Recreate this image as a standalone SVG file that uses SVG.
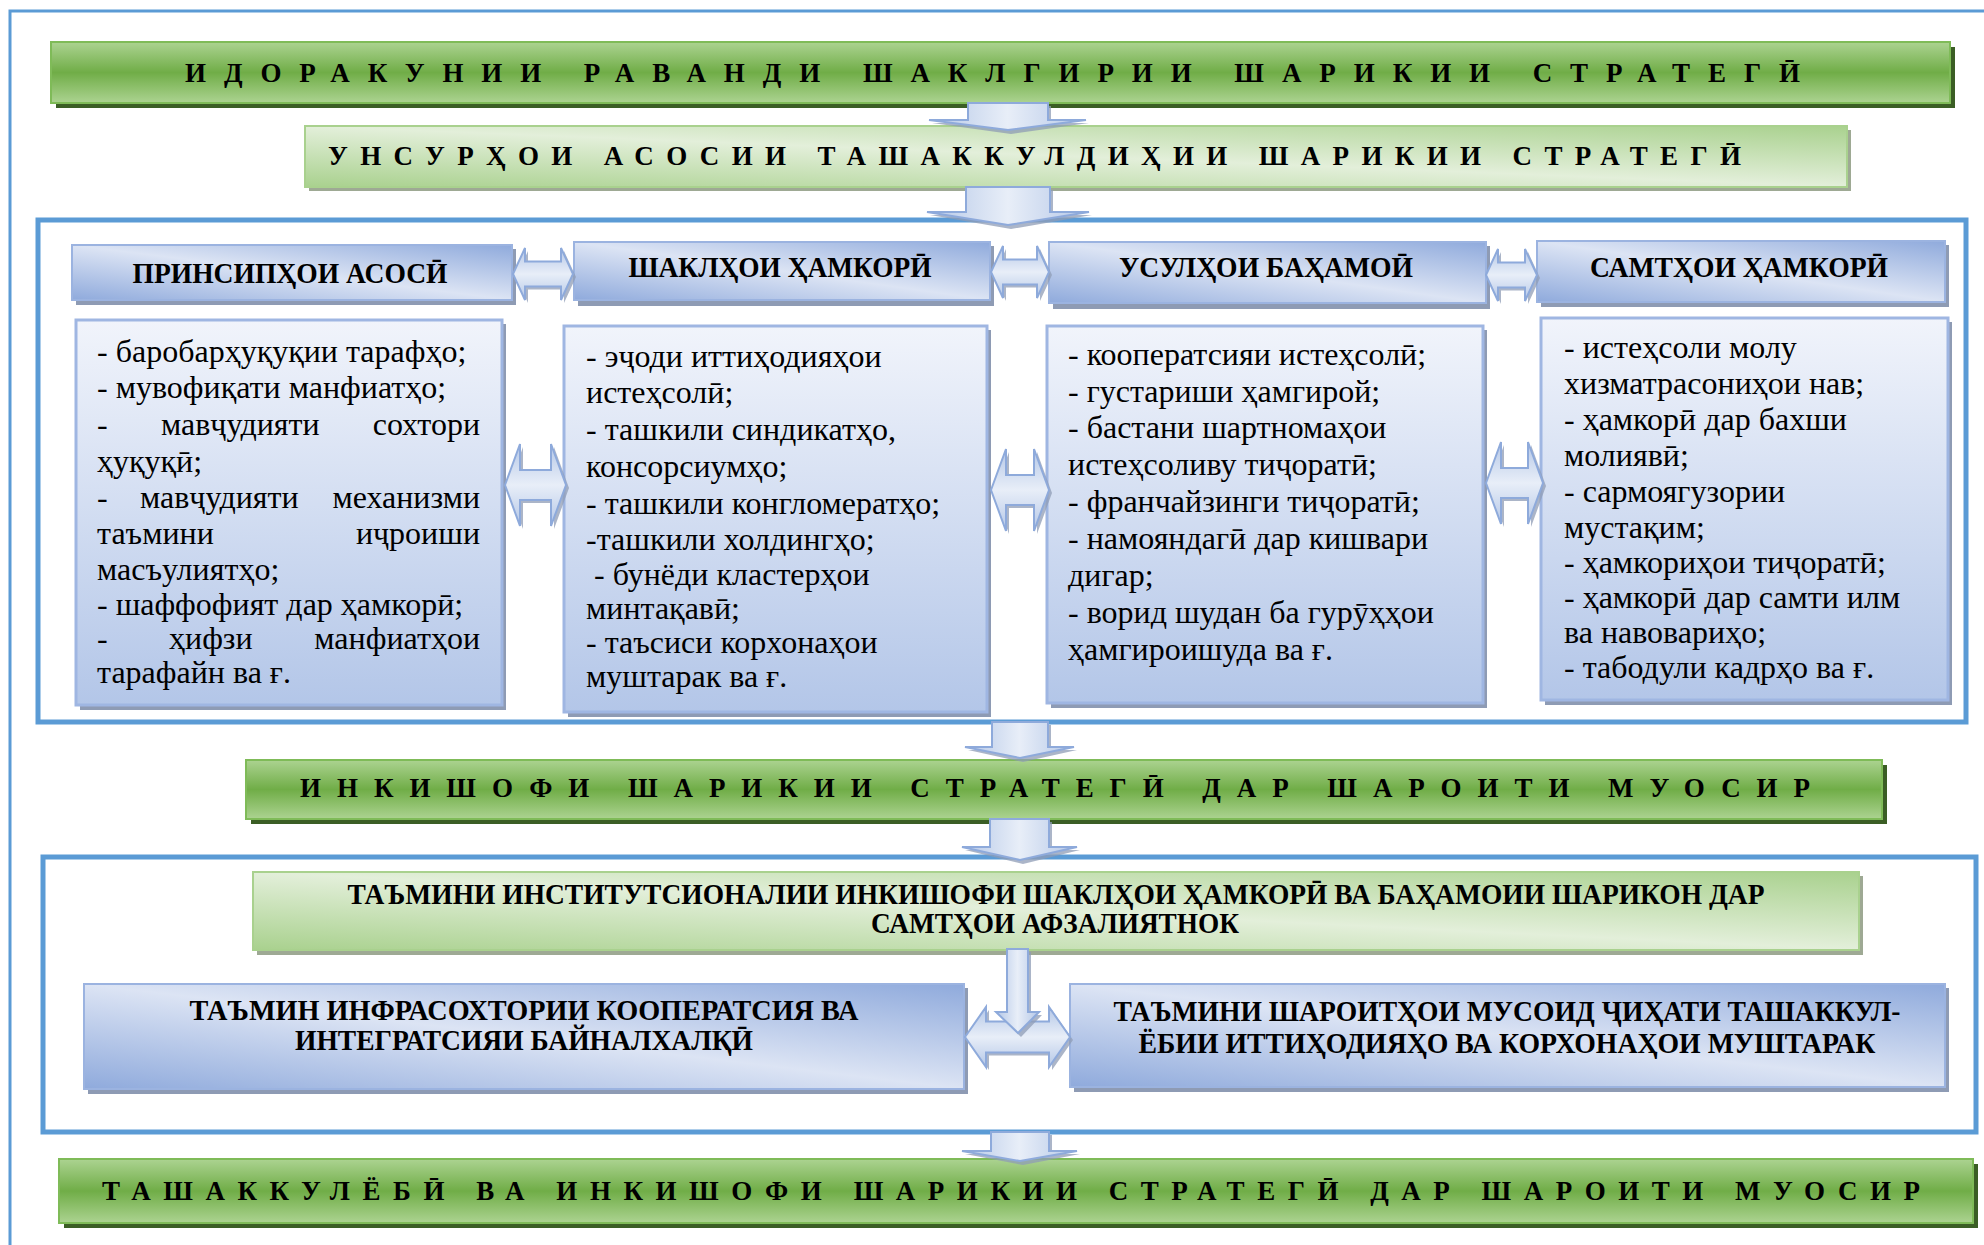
<svg xmlns="http://www.w3.org/2000/svg" width="1984" height="1245" viewBox="0 0 1984 1245">
<defs>
<linearGradient id="gDark" x1="0" y1="0" x2="0" y2="1"><stop offset="0" stop-color="#acd391"/><stop offset="0.5" stop-color="#70ad47"/><stop offset="1" stop-color="#acd391"/></linearGradient>
<linearGradient id="gLight" x1="0" y1="1" x2="1" y2="0"><stop offset="0" stop-color="#a9d18e"/><stop offset="0.5" stop-color="#e3efda"/><stop offset="1" stop-color="#a9d18e"/></linearGradient>
<linearGradient id="gBlueDiag" x1="0" y1="1" x2="1" y2="0"><stop offset="0" stop-color="#8faadc"/><stop offset="0.5" stop-color="#dce4f4"/><stop offset="1" stop-color="#8faadc"/></linearGradient>
<linearGradient id="gBox" x1="0" y1="0" x2="0" y2="1"><stop offset="0" stop-color="#f1f4fb"/><stop offset="1" stop-color="#b3c6e8"/></linearGradient>
<linearGradient id="gArrH" x1="0" y1="0" x2="0" y2="1"><stop offset="0" stop-color="#b4c7e7"/><stop offset="0.5" stop-color="#e8eef8"/><stop offset="1" stop-color="#b4c7e7"/></linearGradient>
<linearGradient id="gArrV" x1="0" y1="0" x2="1" y2="0"><stop offset="0" stop-color="#b4c7e7"/><stop offset="0.5" stop-color="#e8eef8"/><stop offset="1" stop-color="#b4c7e7"/></linearGradient>
<style>
.frame{fill:none;stroke:#5b9bd5;stroke-width:5}
.outer{fill:none;stroke:#5b9bd5;stroke-width:3}
.dark{fill:url(#gDark);stroke:#7fbb58;stroke-width:2}
.darkSh{fill:#3b5e25}
.light{fill:url(#gLight);stroke:#a9d18e;stroke-width:2}
.lightSh{fill:#9ea994}
.hdr{fill:url(#gBlueDiag);stroke:#9bb3e0;stroke-width:2}
.box{fill:url(#gBox);stroke:#9fb6e2;stroke-width:3}
.blueSh{fill:#8e9bb4}
.arrH{fill:url(#gArrH);stroke:#8eaadb;stroke-width:2}
.arrV{fill:url(#gArrV);stroke:#8eaadb;stroke-width:2}
.arrSh{fill:#8f9cb6;opacity:0.75}
.ban{font-family:"Liberation Serif","DejaVu Serif","Times New Roman",serif;font-weight:bold;font-size:27px;fill:#000}
.hd{font-family:"Liberation Serif","DejaVu Serif","Times New Roman",serif;font-weight:bold;font-size:29px;fill:#000;text-anchor:middle}
.bd{font-family:"Liberation Serif","DejaVu Serif","Times New Roman",serif;font-size:32px;fill:#000}
.end{text-anchor:end}
</style>
</defs>
<rect width="1984" height="1245" fill="#ffffff"/>
<path class="outer" d="M10,1245 V11 H1984"/>
<rect class="frame" x="38" y="220" width="1928" height="502"/>
<rect class="frame" x="43" y="857" width="1933" height="275"/>

<g id="banner1">
<rect class="darkSh" x="56" y="47" width="1899" height="61"/>
<rect class="dark" x="51" y="42" width="1899" height="61"/>
<text class="ban" x="185" y="82" textLength="1615" lengthAdjust="spacing">ИДОРАКУНИИ РАВАНДИ ШАКЛГИРИИ ШАРИКИИ СТРАТЕГӢ</text>
</g>
<g id="banner2">
<rect class="lightSh" x="309" y="130" width="1542" height="61"/>
<rect class="light" x="305" y="126" width="1542" height="61"/>
<text class="ban" x="328" y="165" textLength="1413" lengthAdjust="spacing">УНСУРҲОИ АСОСИИ ТАШАККУЛДИҲИИ ШАРИКИИ СТРАТЕГӢ</text>
</g>

<g id="header1">
<rect class="blueSh" x="76" y="249" width="440" height="56"/>
<rect class="hdr" x="72" y="245" width="440" height="55"/>
<text class="hd" x="290" y="283" textLength="315" lengthAdjust="spacingAndGlyphs">ПРИНСИПҲОИ АСОСӢ</text>
</g>
<g id="header2">
<rect class="blueSh" x="578" y="246" width="416" height="60"/>
<rect class="hdr" x="574" y="242" width="416" height="58"/>
<text class="hd" x="780" y="277" textLength="303" lengthAdjust="spacingAndGlyphs">ШАКЛҲОИ ҲАМКОРӢ</text>
</g>
<g id="header3">
<rect class="blueSh" x="1053" y="246" width="437" height="63"/>
<rect class="hdr" x="1049" y="242" width="437" height="61"/>
<text class="hd" x="1266" y="277" textLength="294" lengthAdjust="spacingAndGlyphs">УСУЛҲОИ БАҲАМОӢ</text>
</g>
<g id="header4">
<rect class="blueSh" x="1541" y="245" width="408" height="62"/>
<rect class="hdr" x="1537" y="241" width="408" height="61"/>
<text class="hd" x="1739" y="277" textLength="298" lengthAdjust="spacingAndGlyphs">САМТҲОИ ҲАМКОРӢ</text>
</g>

<g id="box1">
<rect class="blueSh" x="80" y="324" width="426" height="386"/>
<rect class="box" x="76" y="320" width="426" height="385"/>
<text class="bd" x="97" y="362">- баробарҳуқуқии тарафҳо;</text>
<text class="bd" x="97" y="398">- мувофиқати манфиатҳо;</text>
<text class="bd" y="435"><tspan x="97">-</tspan><tspan x="161">мавҷудияти</tspan></text>
<text class="bd end" x="480" y="435">сохтори</text>
<text class="bd" x="97" y="472">ҳуқуқӣ;</text>
<text class="bd" y="508"><tspan x="97">-</tspan><tspan x="140">мавҷудияти</tspan></text>
<text class="bd end" x="480" y="508">механизми</text>
<text class="bd" x="97" y="544">таъмини</text>
<text class="bd end" x="480" y="544">иҷроиши</text>
<text class="bd" x="97" y="580">масъулиятҳо;</text>
<text class="bd" x="97" y="615">- шаффофият дар ҳамкорӣ;</text>
<text class="bd" y="649"><tspan x="97">-</tspan><tspan x="169">ҳифзи</tspan></text>
<text class="bd end" x="480" y="649">манфиатҳои</text>
<text class="bd" x="97" y="683">тарафайн ва ғ.</text>
</g>
<g id="box2">
<rect class="blueSh" x="568" y="330" width="423" height="387"/>
<rect class="box" x="564" y="326" width="423" height="386"/>
<text class="bd" x="586" y="367">- эҷоди иттиҳодияҳои</text>
<text class="bd" x="586" y="403">истеҳсолӣ;</text>
<text class="bd" x="586" y="440">- ташкили синдикатҳо,</text>
<text class="bd" x="586" y="477">консорсиумҳо;</text>
<text class="bd" x="586" y="514">- ташкили конгломератҳо;</text>
<text class="bd" x="586" y="550">-ташкили холдингҳо;</text>
<text class="bd" x="594" y="585">- бунёди кластерҳои</text>
<text class="bd" x="586" y="619">минтақавӣ;</text>
<text class="bd" x="586" y="653">- таъсиси корхонаҳои</text>
<text class="bd" x="586" y="687">муштарак ва ғ.</text>
</g>
<g id="box3">
<rect class="blueSh" x="1051" y="330" width="436" height="378"/>
<rect class="box" x="1047" y="326" width="436" height="377"/>
<text class="bd" x="1068" y="365">- кооператсияи истеҳсолӣ;</text>
<text class="bd" x="1068" y="402">- густариши ҳамгирой;</text>
<text class="bd" x="1068" y="438">- бастани шартномаҳои</text>
<text class="bd" x="1068" y="475">истеҳсоливу тиҷоратӣ;</text>
<text class="bd" x="1068" y="512">- франчайзинги тиҷоратӣ;</text>
<text class="bd" x="1068" y="549">- намояндагӣ дар кишвари</text>
<text class="bd" x="1068" y="586">дигар;</text>
<text class="bd" x="1068" y="623">- ворид шудан ба гурӯҳҳои</text>
<text class="bd" x="1068" y="660">ҳамгироишуда ва ғ.</text>
</g>
<g id="box4">
<rect class="blueSh" x="1545" y="322" width="407" height="383"/>
<rect class="box" x="1541" y="318" width="407" height="382"/>
<text class="bd" x="1564" y="358">- истеҳсоли молу</text>
<text class="bd" x="1564" y="394">хизматрасониҳои нав;</text>
<text class="bd" x="1564" y="430">- ҳамкорӣ дар бахши</text>
<text class="bd" x="1564" y="466">молиявӣ;</text>
<text class="bd" x="1564" y="502">- сармоягузории</text>
<text class="bd" x="1564" y="538">мустақим;</text>
<text class="bd" x="1564" y="573">- ҳамкориҳои тиҷоратӣ;</text>
<text class="bd" x="1564" y="608">- ҳамкорӣ дар самти илм</text>
<text class="bd" x="1564" y="643">ва навовариҳо;</text>
<text class="bd" x="1564" y="678">- табодули кадрҳо ва ғ.</text>
</g>

<g id="banner3">
<rect class="darkSh" x="251" y="765" width="1636" height="59"/>
<rect class="dark" x="246" y="760" width="1636" height="59"/>
<text class="ban" x="300" y="797" textLength="1510" lengthAdjust="spacing">ИНКИШОФИ ШАРИКИИ СТРАТЕГӢ ДАР ШАРОИТИ МУОСИР</text>
</g>

<g id="box5">
<rect class="lightSh" x="257" y="876" width="1606" height="79"/>
<rect class="light" x="253" y="872" width="1606" height="78"/>
<text class="hd" x="1056" y="904" font-size="26" textLength="1417" lengthAdjust="spacingAndGlyphs">ТАЪМИНИ ИНСТИТУТСИОНАЛИИ ИНКИШОФИ ШАКЛҲОИ ҲАМКОРӢ ВА БАҲАМОИИ ШАРИКОН ДАР</text>
<text class="hd" x="1055" y="933" font-size="26" textLength="368" lengthAdjust="spacingAndGlyphs">САМТҲОИ АФЗАЛИЯТНОК</text>
</g>
<g id="box6">
<rect class="blueSh" x="88" y="988" width="880" height="106"/>
<rect class="hdr" x="84" y="984" width="880" height="105"/>
<text class="hd" x="524" y="1020" font-size="28" textLength="669" lengthAdjust="spacingAndGlyphs">ТАЪМИН ИНФРАСОХТОРИИ КООПЕРАТСИЯ ВА</text>
<text class="hd" x="524" y="1050" font-size="28" textLength="458" lengthAdjust="spacingAndGlyphs">ИНТЕГРАТСИЯИ БАЙНАЛХАЛҚӢ</text>
</g>
<g id="box7">
<rect class="blueSh" x="1074" y="988" width="875" height="104"/>
<rect class="hdr" x="1070" y="984" width="875" height="103"/>
<text class="hd" x="1507" y="1021" font-size="28" textLength="787" lengthAdjust="spacingAndGlyphs">ТАЪМИНИ ШАРОИТҲОИ МУСОИД ҶИҲАТИ ТАШАККУЛ-</text>
<text class="hd" x="1507" y="1053" font-size="28" textLength="737" lengthAdjust="spacingAndGlyphs">ЁБИИ ИТТИҲОДИЯҲО ВА КОРХОНАҲОИ МУШТАРАК</text>
</g>

<g id="banner4">
<rect class="darkSh" x="64" y="1164" width="1914" height="64"/>
<rect class="dark" x="59" y="1159" width="1914" height="64"/>
<text class="ban" x="102" y="1200" textLength="1818" lengthAdjust="spacing">ТАШАККУЛЁБӢ ВА ИНКИШОФИ ШАРИКИИ СТРАТЕГӢ ДАР ШАРОИТИ МУОСИР</text>
</g>

<g id="connectors">
<polygon class="arrSh" points="971,106 1051,106 1051,123 1089,123 1011,134 932,123 971,123"/>
<polygon class="arrV" points="968,103 1048,103 1048,120 1086,120 1008,130 929,120 968,120"/>
<polygon class="arrSh" points="969,190 1053,190 1053,215 1092,215 1011,229 930,215 969,215"/>
<polygon class="arrV" points="966,187 1050,187 1050,212 1089,212 1008,225 927,212 966,212"/>
<polygon class="arrSh" points="516,277 528,251 528,264.5 564,264.5 564,251 576,277 564,303 564,289.5 528,289.5 528,303"/>
<polygon class="arrH" points="513,274 525,248 525,261.5 561,261.5 561,248 573,274 561,300 561,286.5 525,286.5 525,300"/>
<polygon class="arrSh" points="994,275 1006,249 1006,262.5 1040,262.5 1040,249 1052,275 1040,301 1040,287.5 1006,287.5 1006,301"/>
<polygon class="arrH" points="991,272 1003,246 1003,259.5 1037,259.5 1037,246 1049,272 1037,298 1037,284.5 1003,284.5 1003,298"/>
<polygon class="arrSh" points="1489,278 1501,252 1501,265.5 1528,265.5 1528,252 1540,278 1528,304 1528,290.5 1501,290.5 1501,304"/>
<polygon class="arrH" points="1486,275 1498,249 1498,262.5 1525,262.5 1525,249 1537,275 1525,301 1525,287.5 1498,287.5 1498,301"/>
<polygon class="arrSh" points="508,488 523,447 523,473 554,473 554,447 569,488 554,529 554,503 523,503 523,529"/>
<polygon class="arrH" points="505,485 520,444 520,470 551,470 551,444 566,485 551,526 551,500 520,500 520,526"/>
<polygon class="arrSh" points="994,493 1009,452 1009,478 1037,478 1037,452 1052,493 1037,534 1037,508 1009,508 1009,534"/>
<polygon class="arrH" points="991,490 1006,449 1006,475 1034,475 1034,449 1049,490 1034,531 1034,505 1006,505 1006,531"/>
<polygon class="arrSh" points="1489,486 1504,445 1504,471 1531,471 1531,445 1546,486 1531,527 1531,501 1504,501 1504,527"/>
<polygon class="arrH" points="1486,483 1501,442 1501,468 1528,468 1528,442 1543,483 1528,524 1528,498 1501,498 1501,524"/>
<polygon class="arrSh" points="995,725 1051,725 1051,750 1077,750 1023,762 968,750 995,750"/>
<polygon class="arrV" points="992,722 1048,722 1048,747 1074,747 1020,758 965,747 992,747"/>
<polygon class="arrSh" points="993,822 1052,822 1052,850 1080,850 1023,864 965,850 993,850"/>
<polygon class="arrV" points="990,819 1049,819 1049,847 1077,847 1020,860 962,847 990,847"/>
<polygon class="arrSh" points="968,1040 989,1010 989,1024.5 1052,1024.5 1052,1010 1073,1040 1052,1070 1052,1055.5 989,1055.5 989,1070"/>
<polygon class="arrH" points="965,1037 986,1007 986,1021.5 1049,1021.5 1049,1007 1070,1037 1049,1067 1049,1052.5 986,1052.5 986,1067"/>
<polygon class="arrSh" points="1010,952 1031,952 1031,1015 1042,1015 1021,1037 999,1015 1010,1015"/>
<polygon class="arrV" points="1007,949 1028,949 1028,1012 1039,1012 1018,1033 996,1012 1007,1012"/>
<polygon class="arrSh" points="994,1135 1052,1135 1052,1154 1080,1154 1023,1165 965,1154 994,1154"/>
<polygon class="arrV" points="991,1132 1049,1132 1049,1151 1077,1151 1020,1161 962,1151 991,1151"/>
</g>
</svg>
